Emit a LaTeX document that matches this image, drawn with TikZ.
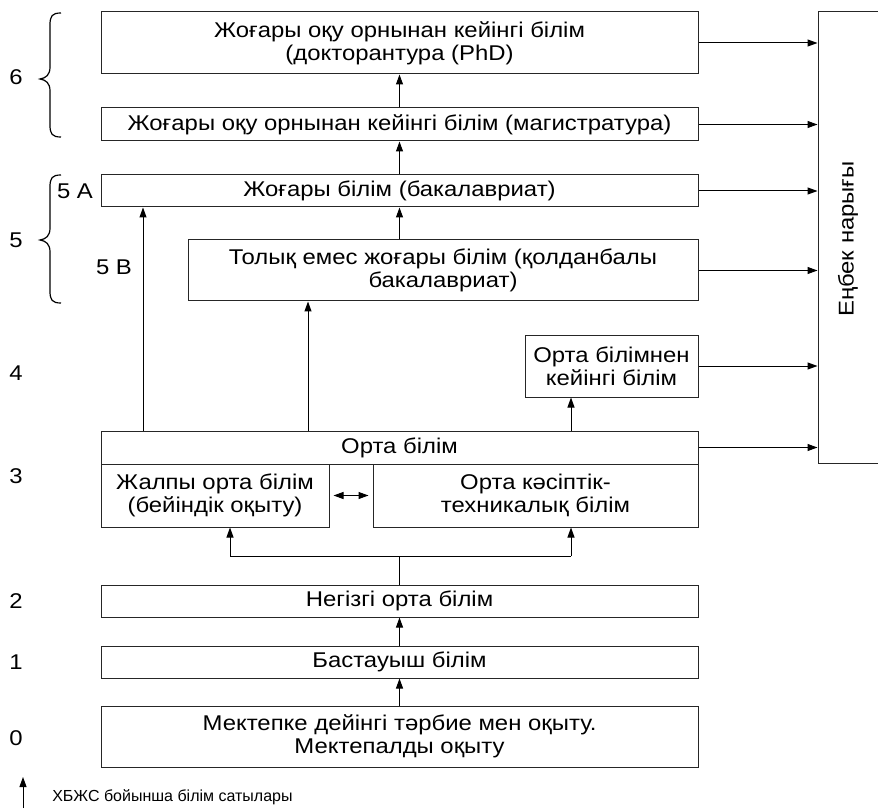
\documentclass[tikz,border=0pt]{standalone}
\usepackage{fontspec}
\setmainfont[FakeStretch=1.12]{Liberation Sans}
\newfontfamily\legfont{Liberation Sans}
\usetikzlibrary{arrows.meta,calc}
\newcommand\mainfs{\fontsize{16}{17}\selectfont}
\newcommand\legfs{\legfont\fontsize{12}{14}\selectfont}
\begin{document}
\begin{tikzpicture}[x=0.75pt,y=-0.75pt,
  box/.style={draw=black!85, line width=0.75pt, inner sep=0pt, align=center, font=\mainfs},
  wfull/.style={minimum width=447.75pt},
  arr/.style={line width=0.75pt, -{Triangle[length=7.5pt,width=5.25pt]}},
  dblarr/.style={line width=0.75pt, {Triangle[length=7.5pt,width=5.25pt]}-{Triangle[length=7.5pt,width=5.25pt]}},
  lvl/.style={font=\mainfs, inner sep=0pt},
  brc/.style={line width=0.9pt},
]
\path[use as bounding box] (0,0) rectangle (878,809);
\clip (0,0) rectangle (878,809);

% boxes
\node[box, wfull, minimum height=46.5pt] (phd) at (399.5,43) {Жоғары оқу орнынан кейінгі білім\\(докторантура (PhD)};
\node[box, wfull, minimum height=24.75pt] (mag) at (399.5,124.5) {Жоғары оқу орнынан кейінгі білім (магистратура)};
\node[box, wfull, minimum height=24pt] (bak) at (399.5,191) {Жоғары білім (бакалавриат)};
\node[box, minimum width=382.5pt, minimum height=45.75pt] (tol) at (443,270.5) {Толық емес жоғары білім (қолданбалы\\бакалавриат)};
\node[box, minimum width=129.75pt, minimum height=46.5pt] (post) at (611.5,366) {Орта білімнен\\кейінгі білім};
\node[box, wfull, minimum height=24.75pt] (orta) at (399.5,447.5) {Орта білім};
\node[box, minimum width=171pt, minimum height=47.25pt] (zhalpy) at (215,495.5) {Жалпы орта білім\\(бейіндік оқыту)};
\node[box, minimum width=243.75pt, minimum height=47.25pt] (kasip) at (535.5,495.5) {Орта кәсіптік-\\техникалық білім};
\node[box, wfull, minimum height=24pt] (negiz) at (399.5,601) {Негізгі орта білім};
\node[box, wfull, minimum height=24pt] (bast) at (399.5,662) {Бастауыш білім};
\node[box, wfull, minimum height=45.75pt] (mek) at (399.5,736.5) {Мектепке дейінгі тәрбие мен оқыту.\\Мектепалды оқыту};
\node[box, minimum width=61.5pt, minimum height=338.25pt] (enbek) at (859,237.5) {};
\node[lvl, rotate=90] (enbektxt) at (848,239) {Еңбек нарығы};

% helper coordinates
\coordinate (c143) at (143,0);
\coordinate (c308) at (308,0);
\coordinate (c571) at (571,0);
\coordinate (c230) at (230,0);
\coordinate (fork) at (400,556);

% arrows to labour market
\foreach \n in {phd,mag,bak,tol,post,orta}
  \draw[arr] (\n.east) -- (\n.east -| enbek.west);

% vertical arrows
\draw[arr] (mag.north) -- (phd.south);
\draw[arr] (bak.north) -- (mag.south);
\draw[arr] (tol.north -| bak.north) -- (bak.south);
\draw[arr] (orta.north -| c143) -- (bak.south -| c143);
\draw[arr] (orta.north -| c308) -- (tol.south -| c308);
\draw[arr] (orta.north -| c571) -- (post.south -| c571);
\draw[dblarr] ([xshift=3pt]zhalpy.east) -- ([xshift=-3pt]kasip.west);
\draw[line width=0.75pt] (negiz.north) -- (negiz.north |- fork);
\draw[line width=0.75pt] (fork -| c230) -- (fork -| c571);
\draw[arr] (fork -| c230) -- (zhalpy.south -| c230);
\draw[arr] (fork -| c571) -- (kasip.south -| c571);
\draw[arr] (bast.north) -- (negiz.south);
\draw[arr] (mek.north) -- (bast.south);

% level labels
\node[lvl] (l6) at (16,77) {6};
\node[lvl] (l5) at (16,240) {5};
\node[lvl] (l4) at (16,373) {4};
\node[lvl] (l3) at (16,476) {3};
\node[lvl] (l2) at (16,601) {2};
\node[lvl] (l1) at (16,662) {1};
\node[lvl] (l0) at (16,738) {0};
\node[lvl] (l5a) at (75,191) {5 A};
\node[lvl] (l5b) at (114,267) {5 B};

% braces
\draw[brc] (61,13) .. controls (52,13) and (50,16) .. (50,25) -- (50,67)
  .. controls (50,75) and (46,78) .. (40,79) .. controls (46,80) and (50,83) .. (50,91)
  -- (50,125) .. controls (50,134) and (52,137) .. (61,137);
\draw[brc] (61,175) .. controls (52,175) and (50,178) .. (50,187) -- (50,228)
  .. controls (50,236) and (46,239) .. (40,240) .. controls (46,241) and (50,244) .. (50,252)
  -- (50,291) .. controls (50,300) and (52,303) .. (61,303);

% legend
\coordinate (legbot) at (23,808);
\coordinate (legtop) at (23,777);
\draw[arr] (legbot) -- (legtop);
\node[anchor=west, font=\legfs, inner sep=0pt] (leg) at (52,797) {ХБЖС бойынша білім сатылары};
\end{tikzpicture}
\end{document}
